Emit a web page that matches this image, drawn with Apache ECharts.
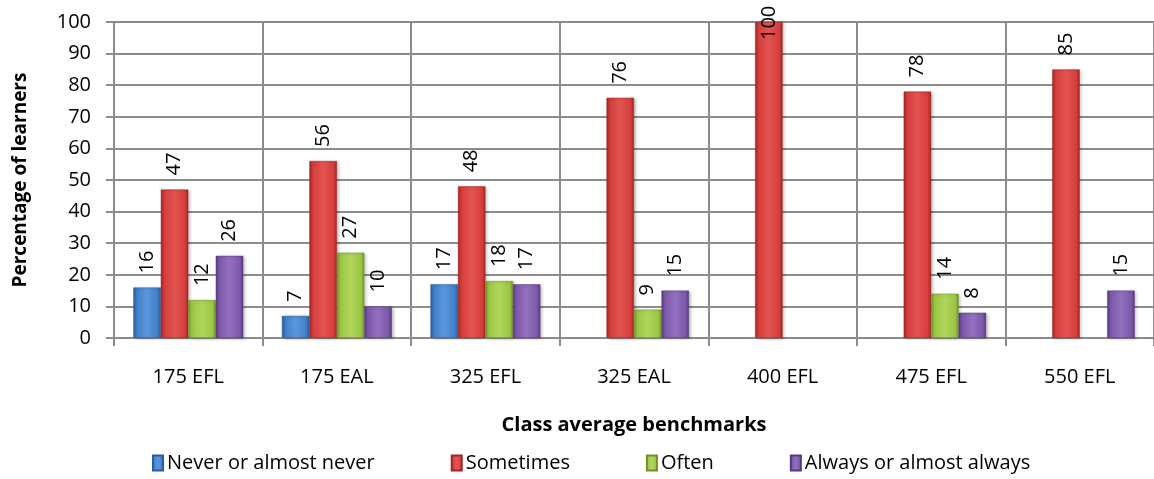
<!DOCTYPE html>
<html>
<head>
<meta charset="utf-8">
<script src="https://cdn.jsdelivr.net/npm/echarts@6/dist/echarts.min.js"></script>
<style>
  html, body { margin: 0; padding: 0; background: #fff; }
  #chart { width: 1154px; height: 479px; }
</style>
</head>
<body>
<div id="chart"></div>
<script>
// Frequency of responses per class-average benchmark (percentage of learners)
const categories = ['175 EFL', '175 EAL', '325 EFL', '325 EAL', '400 EFL', '475 EFL', '550 EFL'];
const seriesNames = ['Never or almost never', 'Sometimes', 'Often', 'Always or almost always'];
const neverValues     = [16, 7, 17, null, null, null, null];
const sometimesValues = [47, 56, 48, 76, 100, 78, 85];
const oftenValues     = [12, 27, 18, 9, null, 14, null];
const alwaysValues    = [26, 10, 17, 15, null, 8, 15];
const yTicks = { min: 0, max: 100, interval: 10 };

const FONT = '"Open Sans", "Liberation Sans", sans-serif';
const GRID_COLOR = '#8c8c8c';

// Base colours with darker edges to give each bar a bevelled look
const palette = [
  { base: '#3f7fcb', light: '#5d97dc', dark: '#2a5d9c' },
  { base: '#d63d3b', light: '#e25552', dark: '#9e2624' },
  { base: '#9cc643', light: '#b0d65c', dark: '#6f9327' },
  { base: '#7d58aa', light: '#9370c0', dark: '#553a7a' }
];

function barFill(c) {
  return new echarts.graphic.LinearGradient(0, 0, 1, 0, [
    { offset: 0, color: c.dark },
    { offset: 0.12, color: c.base },
    { offset: 0.5, color: c.light },
    { offset: 0.88, color: c.base },
    { offset: 1, color: c.dark }
  ]);
}

function toData(values) {
  // The tallest bar touches the top of the plot, so its label sits just inside
  return values.map(v => v === yTicks.max ? { value: v, label: { distance: -18 } } : v);
}

const valueSets = [neverValues, sometimesValues, oftenValues, alwaysValues];

const series = valueSets.map((vals, i) => ({
  name: seriesNames[i],
  type: 'bar',
  data: toData(vals),
  barGap: '0%',
  barCategoryGap: '26%',
  itemStyle: {
    color: barFill(palette[i]),
    borderColor: palette[i].dark,
    borderWidth: 0.5,
    shadowColor: 'rgba(0,0,0,0.25)',
    shadowBlur: 3,
    shadowOffsetX: 2,
    shadowOffsetY: 1
  },
  label: {
    show: true,
    position: 'top',
    rotate: 90,
    align: 'left',
    verticalAlign: 'middle',
    distance: 14,
    color: '#000',
    fontFamily: FONT,
    fontSize: 20
  }
}));

const chart = echarts.init(document.getElementById('chart'), null, { renderer: 'canvas' });
chart.setOption({
  animation: false,
  backgroundColor: '#fff',
  color: palette.map(c => c.base),
  grid: { left: 114, right: -6, top: 22, bottom: 141, containLabel: false },
  legend: {
    bottom: 1,
    left: 147,
    itemWidth: 10,
    itemHeight: 15,
    itemGap: 76,
    icon: 'rect',
    textStyle: { fontFamily: FONT, fontSize: 20, color: '#000', padding: [0, 0, 0, -1] },
    data: seriesNames.map((n, i) => ({ name: n, itemStyle: { color: barFill(palette[i]) } }))
  },
  xAxis: {
    type: 'category',
    data: categories,
    name: 'Class average benchmarks',
    nameLocation: 'middle',
    nameGap: 77,
    nameTextStyle: { fontFamily: FONT, fontSize: 20, fontWeight: 'bold', color: '#000' },
    axisLine: { lineStyle: { color: GRID_COLOR, width: 2 } },
    axisTick: { show: true, length: 8, lineStyle: { color: GRID_COLOR, width: 2 } },
    axisLabel: { margin: 29, fontFamily: FONT, fontSize: 20, color: '#000' },
    splitLine: { show: true, lineStyle: { color: GRID_COLOR, width: 2 } }
  },
  yAxis: {
    type: 'value',
    min: yTicks.min,
    max: yTicks.max,
    interval: yTicks.interval,
    name: 'Percentage of learners',
    nameLocation: 'middle',
    nameGap: 84,
    nameTextStyle: { fontFamily: FONT, fontSize: 19, fontWeight: 'bold', color: '#000' },
    axisLine: { show: true, lineStyle: { color: GRID_COLOR, width: 2 } },
    axisTick: { show: true, length: 8, lineStyle: { color: GRID_COLOR, width: 2 } },
    axisLabel: { margin: 23, fontFamily: FONT, fontSize: 20, color: '#000' },
    splitLine: { show: true, lineStyle: { color: GRID_COLOR, width: 2 } }
  },
  series: series
});
</script>
</body>
</html>
